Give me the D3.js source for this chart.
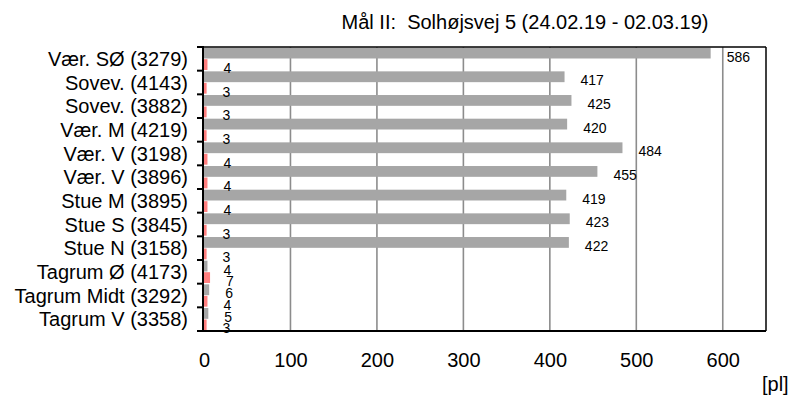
<!DOCTYPE html>
<html>
<head>
<meta charset="utf-8">
<script src="https://cdn.jsdelivr.net/npm/d3@7/dist/d3.min.js"></script>
<style>
  html, body { margin: 0; padding: 0; background: #fff; }
  svg { display: block; font-family: "Liberation Sans", Arial, sans-serif; }
</style>
</head>
<body>
<svg id="chart" width="790" height="402"></svg>
<script>
// Sensor locations (top to bottom)
const categories = [
  "Vær. SØ (3279)", "Sovev. (4143)", "Sovev. (3882)", "Vær. M (4219)",
  "Vær. V (3198)", "Vær. V (3896)", "Stue M (3895)", "Stue S (3845)",
  "Stue N (3158)", "Tagrum Ø (4173)", "Tagrum Midt (3292)", "Tagrum V (3358)"
];
// Grey series (upper bar in each row)
const greyValues = [586, 417, 425, 420, 484, 455, 419, 423, 422, 4, 6, 5];
// Red series (lower bar in each row)
const redValues  = [4, 3, 3, 3, 4, 4, 4, 3, 3, 7, 4, 3];
const xTicks = [0, 100, 200, 300, 400, 500, 600];
const title = "Mål II:  Solhøjsvej 5 (24.02.19 - 02.03.19)";
const unitLabel = "[pl]";

const svg = d3.select("#chart");
const plot = { left: 203, right: 766, top: 47, bottom: 331 };

const x = d3.scaleLinear().domain([0, 650]).range([plot.left + 1, plot.right]);
const y = d3.scaleBand().domain(categories).range([plot.top, plot.bottom]).padding(0);
const sub = d3.scaleBand().domain(["grey", "red"]).range([0, y.bandwidth()])
  .paddingInner(0.06).paddingOuter(0.06);

// Vertical gridlines
svg.append("g")
  .selectAll("line")
  .data(xTicks.filter(d => d > 0))
  .join("line")
  .attr("x1", d => x(d)).attr("x2", d => x(d))
  .attr("y1", plot.top).attr("y2", plot.bottom)
  .attr("stroke", "#8c8c8c").attr("stroke-width", 1.6);

const rows = categories.map((c, i) => ({ c, grey: greyValues[i], red: redValues[i] }));

const bars = svg.append("g");
bars.selectAll("rect.grey")
  .data(rows).join("rect").attr("class", "grey")
  .attr("x", x(0)).attr("y", d => y(d.c) + sub("grey"))
  .attr("width", d => x(d.grey) - x(0)).attr("height", sub.bandwidth())
  .attr("fill", "#a6a6a6");
bars.selectAll("rect.red")
  .data(rows).join("rect").attr("class", "red")
  .attr("x", x(0)).attr("y", d => y(d.c) + sub("red"))
  .attr("width", d => x(d.red) - x(0)).attr("height", sub.bandwidth())
  .attr("fill", "#ff7f7f");

// Value labels
const labels = svg.append("g").attr("font-size", 14).attr("fill", "#000");
rows.forEach(d => {
  [["grey", d.grey], ["red", d.red]].forEach(([k, v]) => {
    labels.append("text")
      .attr("x", x(v) + 16)
      .attr("y", y(d.c) + sub(k) + sub.bandwidth() / 2 + 8.5)
      .text(v);
  });
});

// Frame: top and right borders
svg.append("line").attr("x1", plot.left).attr("x2", plot.right)
  .attr("y1", plot.top).attr("y2", plot.top).attr("stroke", "#000").attr("stroke-width", 1.5);
svg.append("line").attr("x1", plot.right).attr("x2", plot.right)
  .attr("y1", plot.top).attr("y2", plot.bottom).attr("stroke", "#000").attr("stroke-width", 1.5);

// X axis
const xAxis = svg.append("g")
  .attr("transform", `translate(0,${plot.bottom})`)
  .call(d3.axisBottom(x).tickValues(xTicks).tickSize(0).tickPadding(22));
xAxis.select(".domain").remove();
xAxis.selectAll("text").attr("font-size", 20).attr("font-family", "Liberation Sans, Arial, sans-serif").attr("fill", "#000");
svg.append("line").attr("x1", plot.left - 6).attr("x2", plot.right)
  .attr("y1", plot.bottom).attr("y2", plot.bottom).attr("stroke", "#000").attr("stroke-width", 2);

// Y axis line with ticks on row boundaries
svg.append("line").attr("x1", plot.left).attr("x2", plot.left)
  .attr("y1", plot.top - 1).attr("y2", plot.bottom + 1).attr("stroke", "#000").attr("stroke-width", 2);
const boundaries = categories.map(c => y(c)).concat([y(categories[categories.length - 1]) + y.bandwidth()]);
svg.append("g").selectAll("line").data(boundaries).join("line")
  .attr("x1", plot.left - 6).attr("x2", plot.left)
  .attr("y1", d => d).attr("y2", d => d)
  .attr("stroke", "#000").attr("stroke-width", 2);

// Category labels
svg.append("g").selectAll("text").data(categories).join("text")
  .attr("x", 188)
  .attr("y", d => y(d) + y.bandwidth() / 2 + 7)
  .attr("text-anchor", "end")
  .attr("font-size", 20)
  .attr("fill", "#000")
  .text(d => d);

// Title
svg.append("text")
  .attr("x", 525).attr("y", 29)
  .attr("text-anchor", "middle")
  .attr("font-size", 20)
  .style("white-space", "pre")
  .text(title);

// Unit label
svg.append("text")
  .attr("x", 762).attr("y", 391)
  .attr("font-size", 20)
  .text(unitLabel);
</script>
</body>
</html>
